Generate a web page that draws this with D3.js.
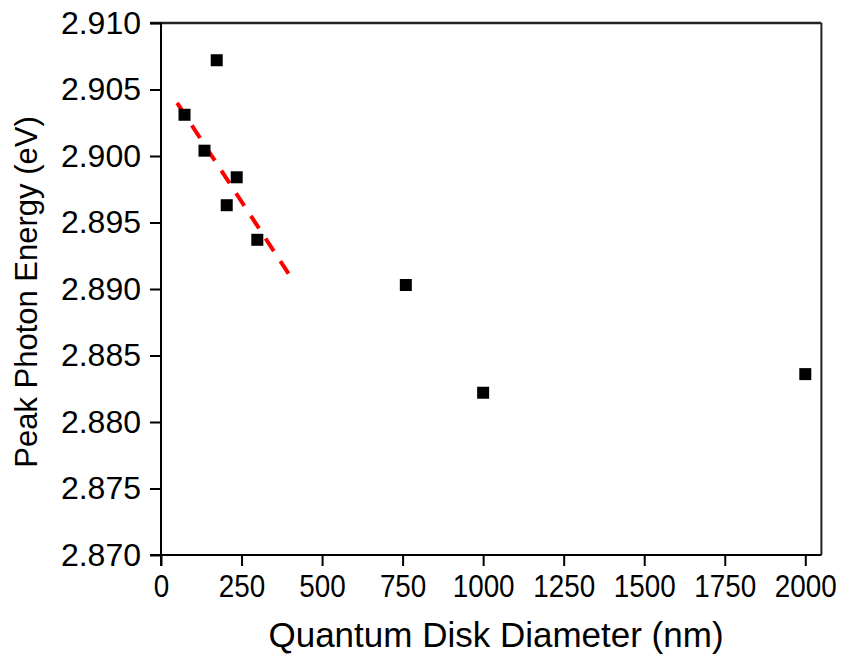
<!DOCTYPE html>
<html>
<head>
<meta charset="utf-8">
<script src="https://cdn.jsdelivr.net/npm/d3@7"></script>
<style>
  body { margin: 0; background: #fff; }
  text { font-family: "Liberation Sans", Arial, sans-serif; fill: #000; }
</style>
</head>
<body>
<div id="chart"></div>
<script>
// measured points
var diameters = [73, 135, 173, 204, 235, 299, 760, 1000, 2000];
var energies = [2.9031, 2.9004, 2.9072, 2.8963, 2.8984, 2.8937, 2.8903, 2.8822, 2.8836];
// linear fit drawn as dashed red line
var fitX = [50, 400];
var fitY = [2.9040, 2.8910];
var xTicks = [0, 250, 500, 750, 1000, 1250, 1500, 1750, 2000];
var yTicks = [2.870, 2.875, 2.880, 2.885, 2.890, 2.895, 2.900, 2.905, 2.910];

var width = 846, height = 664;
var margin = {top: 23, right: 24, bottom: 109, left: 161};

var svg = d3.select('#chart').append('svg')
    .attr('width', width)
    .attr('height', height);

var x = d3.scaleLinear()
    .domain([0, 2050])
    .range([margin.left, width - margin.right - 0.6]);
var y = d3.scaleLinear()
    .domain([2.870, 2.910])
    .range([height - margin.bottom, margin.top]);

// frame: top and right edges
svg.append('line')
    .attr('x1', margin.left - 11).attr('x2', x(2050))
    .attr('y1', y(2.910)).attr('y2', y(2.910))
    .attr('stroke', '#222').attr('stroke-width', 2.5);
svg.append('line')
    .attr('x1', x(2050)).attr('x2', x(2050))
    .attr('y1', y(2.910)).attr('y2', y(2.870))
    .attr('stroke', '#222').attr('stroke-width', 2);

var xAxis = svg.append('g')
    .attr('transform', 'translate(0,' + y(2.870) + ')')
    .call(d3.axisBottom(x).tickValues(xTicks).tickSize(11).tickPadding(8).tickFormat(d3.format('d')));
xAxis.select('.domain').attr('stroke-width', 2).attr('d', 'M' + (margin.left - 11) + ',0H' + x(2050));
xAxis.selectAll('.tick line').attr('stroke-width', 2);
xAxis.selectAll('.tick text')
    .attr('font-size', 32)
    .attr('transform', 'scale(0.87,1)');

var yAxis = svg.append('g')
    .attr('transform', 'translate(' + margin.left + ',0)')
    .call(d3.axisLeft(y).tickValues(yTicks).tickSize(11).tickPadding(9).tickFormat(d3.format('.3f')));
yAxis.select('.domain').attr('stroke-width', 2).attr('d', 'M0,' + y(2.910) + 'V' + (y(2.870) + 11));
yAxis.selectAll('.tick line').attr('stroke-width', 2);
yAxis.selectAll('.tick text').attr('font-size', 32);

// dashed fit line
svg.append('line')
    .attr('x1', x(fitX[0])).attr('y1', y(fitY[0]))
    .attr('x2', x(fitX[1])).attr('y2', y(fitY[1]))
    .attr('stroke', '#ff0000')
    .attr('stroke-width', 4)
    .attr('stroke-dasharray', '15,12');

// data squares
var sq = 12;
svg.selectAll('rect.pt')
    .data(diameters)
    .enter().append('rect')
    .attr('class', 'pt')
    .attr('x', function (d) { return x(d) - sq / 2; })
    .attr('y', function (d, i) { return y(energies[i]) - sq / 2; })
    .attr('width', sq).attr('height', sq)
    .attr('fill', '#000');

// axis titles
svg.append('text')
    .attr('x', 496)
    .attr('y', 647)
    .attr('text-anchor', 'middle')
    .attr('font-size', 35)
    .text('Quantum Disk Diameter (nm)');
svg.append('text')
    .attr('transform', 'translate(37,' + 292 + ') rotate(-90)')
    .attr('text-anchor', 'middle')
    .attr('font-size', 31)
    .text('Peak Photon Energy (eV)');
</script>
</body>
</html>
